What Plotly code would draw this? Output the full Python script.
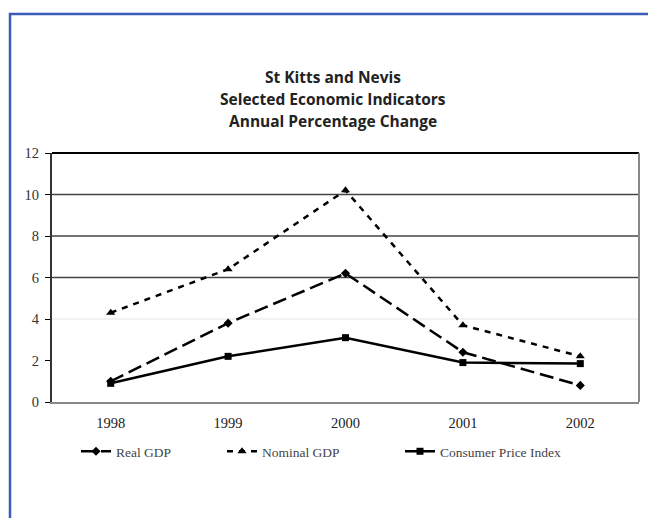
import plotly.graph_objects as go

# Annual percentage change, St Kitts and Nevis
years = ["1998", "1999", "2000", "2001", "2002"]
real_gdp = [1.0, 3.8, 6.2, 2.4, 0.8]
nominal_gdp = [4.3, 6.4, 10.2, 3.7, 2.2]
cpi = [0.9, 2.2, 3.1, 1.9, 1.85]

title_lines = ["St Kitts and Nevis", "Selected Economic Indicators", "Annual Percentage Change"]
y_ticks = [0, 2, 4, 6, 8, 10, 12]
grid_levels = [4, 6, 8, 10]
grid_colors = ["#eeeeee", "#444444", "#444444", "#444444"]

W, H = 648, 518
L, R, T, B = 52, 9, 153, 116
plot_w = W - L - R
plot_h = H - T - B


def px_x(px):
    return (px - L) / plot_w


def px_y(py):
    return (H - B - py) / plot_h


fig = go.Figure()

fig.add_trace(go.Scatter(
    x=years, y=real_gdp, name="Real GDP", mode="lines+markers",
    line=dict(color="black", width=2.5, dash="14px,6px"),
    marker=dict(symbol="diamond", size=7, color="black"),
    legend="legend",
))
fig.add_trace(go.Scatter(
    x=years, y=nominal_gdp, name="Nominal GDP", mode="lines+markers",
    line=dict(color="black", width=2.5, dash="6px,6px"),
    marker=dict(symbol="triangle-up", size=8, color="black"),
    legend="legend2",
))
fig.add_trace(go.Scatter(
    x=years, y=cpi, name="Consumer Price Index", mode="lines+markers",
    line=dict(color="black", width=2.5),
    marker=dict(symbol="square", size=7, color="black"),
    legend="legend3",
))

shapes = []
# horizontal gridlines
for lvl, col in zip(grid_levels, grid_colors):
    shapes.append(dict(type="line", xref="paper", yref="y", x0=0, x1=1, y0=lvl, y1=lvl,
                       line=dict(color=col, width=1.5), layer="below"))
# top edge of plot area
shapes.append(dict(type="line", xref="paper", yref="paper", x0=0, x1=1, y0=1, y1=1,
                   line=dict(color="black", width=2)))
# right edge of plot area
shapes.append(dict(type="line", xref="paper", yref="paper", x0=1, x1=1, y0=0, y1=1,
                   line=dict(color="#888888", width=2)))
# blue frame around the chart
shapes.append(dict(type="rect", xref="paper", yref="paper",
                   x0=px_x(10), x1=px_x(700), y0=px_y(600), y1=px_y(14),
                   line=dict(color="#3a5cb8", width=2.5)))

annotations = []
for i, txt in enumerate(title_lines):
    annotations.append(dict(
        text="<b>" + txt + "</b>", xref="paper", yref="paper",
        x=px_x(333), y=px_y(77 + 22 * i), xanchor="center", yanchor="middle",
        showarrow=False, font=dict(family="Open Sans", size=15.5, color="#222222"),
    ))

legend_font = dict(family="Liberation Serif", size=13.5, color="#444444")


def legend_at(px):
    return dict(orientation="h", x=px_x(px), y=px_y(436), xanchor="left", yanchor="top",
                font=legend_font, bgcolor="rgba(0,0,0,0)")


fig.update_layout(
    width=W, height=H,
    margin=dict(l=L, r=R, t=T, b=B, pad=0),
    paper_bgcolor="white", plot_bgcolor="white",
    showlegend=True,
    legend=legend_at(76),
    legend2=legend_at(222),
    legend3=legend_at(400),
    shapes=shapes,
    annotations=annotations,
    xaxis=dict(type="category", range=[-0.5, 4.5], showgrid=False, zeroline=False,
               showline=True, linecolor="#888888", linewidth=2, ticks="",
               tickfont=dict(family="Liberation Serif", size=14.5, color="#222222"),
               ticklabelstandoff=7),
    yaxis=dict(range=[0, 12], tickvals=y_ticks, showgrid=False, zeroline=False,
               showline=True, linecolor="#333333", linewidth=2, ticks="outside",
               ticklen=5, tickcolor="black",
               tickfont=dict(family="Liberation Serif", size=14.5, color="#333333"),
               ticklabelstandoff=3),
)

fig.write_html("out.html")
